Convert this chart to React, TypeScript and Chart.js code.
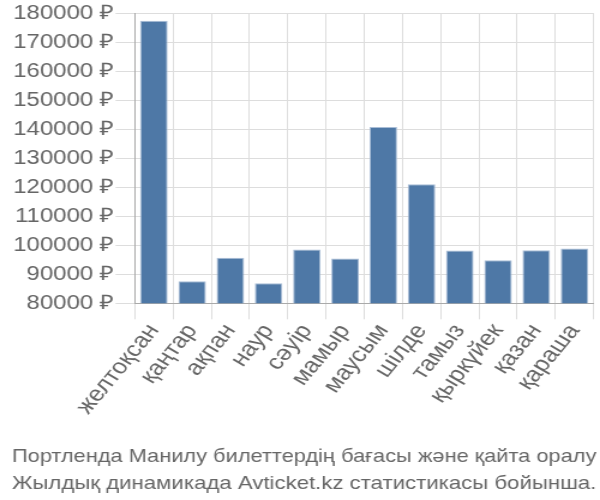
import React, { useEffect, useRef } from "react";
import { Chart, registerables } from "chart.js";

Chart.register(...registerables);

const categories = ["желтоқсан", "қаңтар", "ақпан", "наур", "сәуір", "мамыр", "маусым", "шілде", "тамыз", "қыркүйек", "қазан", "қараша"];
const prices = [177300, 87600, 95700, 86900, 98500, 95400, 140700, 121000, 98200, 94800, 98300, 98900];
const titleLines = ["Портленда Манилу билеттердің бағасы және қайта оралу", "Жылдық динамикада Avticket.kz статистикасы бойынша."];
const currency = " ₽";

export default function App() {
  const ref = useRef<HTMLCanvasElement | null>(null);
  useEffect(() => {
    document.body.style.margin = "0";
    const ctx = ref.current!;
    const font = "'Liberation Sans', Arial, sans-serif";
    const chart = new Chart(ctx, {
      type: "bar",
      data: {
        labels: categories,
        datasets: [
          {
            data: prices,
            backgroundColor: "#4e78a6",
            borderColor: "#a9bdd6",
            borderWidth: 1,
          },
        ],
      },
      options: {
        animation: false,
        responsive: false,
        maintainAspectRatio: false,
        devicePixelRatio: 1,
        layout: { padding: { top: 5, right: 3, left: 10, bottom: 0 } },
        plugins: {
          legend: { display: false },
          tooltip: { enabled: false },
          title: {
            display: true,
            position: "bottom",
            text: titleLines,
            color: "#666",
            font: { family: font, size: 18.6, weight: "normal", lineHeight: 1.45 },
            padding: { top: 24, bottom: 3 },
          },
        },
        scales: {
          x: {
            grid: { color: "#dddddd", tickLength: 16, offset: true },
            border: { color: "#aaaaaa" },
            ticks: {
              color: "#666",
              font: { family: font, size: 21.5 },
              minRotation: 55,
              maxRotation: 55,
              autoSkip: false,
              padding: 0,
            },
          },
          y: {
            min: 80000,
            max: 180000,
            grid: { color: "#dddddd", tickLength: 16 },
            border: { color: "#aaaaaa" },
            ticks: {
              stepSize: 10000,
              color: "#666",
              font: { family: font, size: 20 },
              padding: 1,
              callback: (v: any) => String(v) + currency,
            },
          },
        },
      },
    });
    return () => chart.destroy();
  }, []);
  return (
    <div style={{ width: 600, height: 500 }}>
      <canvas ref={ref} width={500} height={500} style={{ width: "600px", height: "500px", display: "block" }} />
    </div>
  );
}
